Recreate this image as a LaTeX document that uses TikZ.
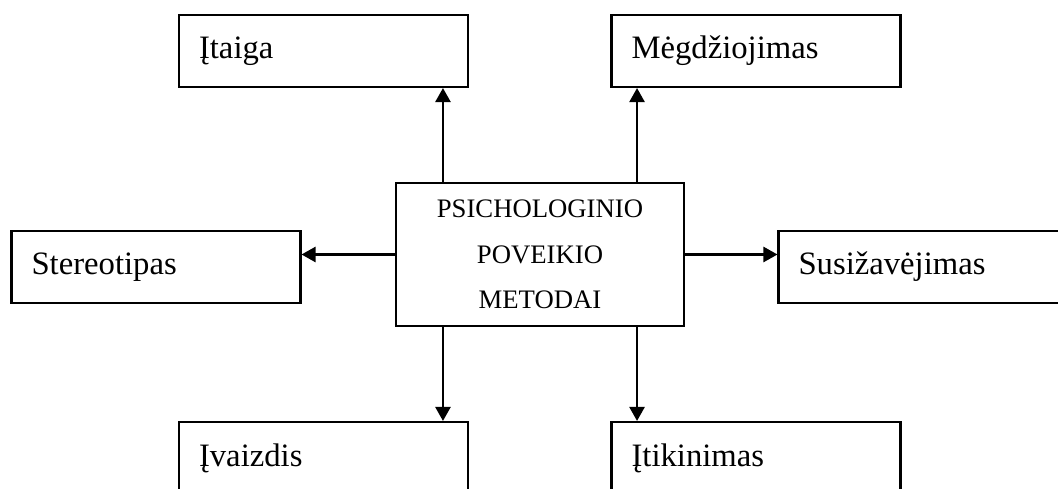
\documentclass[tikz,border=0pt]{standalone}
\usepackage{fontspec}
\setmainfont{Liberation Serif}
\usetikzlibrary{arrows.meta, positioning, calc}

\begin{document}
\begin{tikzpicture}[x=0.02cm, y=-0.02cm,
    box/.style={rectangle, draw=black, line width=1.2pt, minimum height=1.44cm, text width=4.98cm, inner xsep=0.4cm, align=left, font=\fontsize{18.6}{22}\selectfont},
    mainbox/.style={rectangle, draw=black, line width=1.2pt, minimum width=5.76cm, minimum height=2.86cm, align=center, font=\fontsize{15.2}{26}\selectfont},
    arrow/.style={-{Triangle[length=0.28cm, width=0.3cm]}, line width=1.4pt}
]

% Picture frame (boxes run off the edges)
\useasboundingbox (0,0) rectangle (1058,489);
\clip (0,0) rectangle (1058,489);

% Centre
\node[mainbox] (metodai) at (540, 254.5) {
    PSICHOLOGINIO\\
    POVEIKIO\\
    METODAI
};

% Top row
\node[box] (itaiga) at (323.5, 51) {Įtaiga};
\node[box] (megdz) at (756, 51) {Mėgdžiojimas};

% Middle row
\node[box] (stereo) at (156, 267) {Stereotipas};
\node[box] (susiz) at (923, 267) {Susižavėjimas};

% Bottom row
\node[box] (ivaizdis) at (323.5, 458) {Įvaizdis};
\node[box] (itikin) at (756, 458) {Įtikinimas};

% Connection points on the centre box
\coordinate (tl) at ([xshift=0.96cm]metodai.north west);
\coordinate (tr) at ([xshift=-0.96cm]metodai.north east);
\coordinate (bl) at ([xshift=0.96cm]metodai.south west);
\coordinate (br) at ([xshift=-0.96cm]metodai.south east);

% Arrows
\draw[arrow] (tl) -- (tl |- itaiga.south);
\draw[arrow] (tr) -- (tr |- megdz.south);
\draw[arrow] (bl) -- (bl |- ivaizdis.north);
\draw[arrow] (br) -- (br |- itikin.north);
\draw[arrow] (metodai.west) -- (metodai.west -| stereo.east);
\draw[arrow] (metodai.east) -- (metodai.east -| susiz.west);

\end{tikzpicture}
\end{document}
